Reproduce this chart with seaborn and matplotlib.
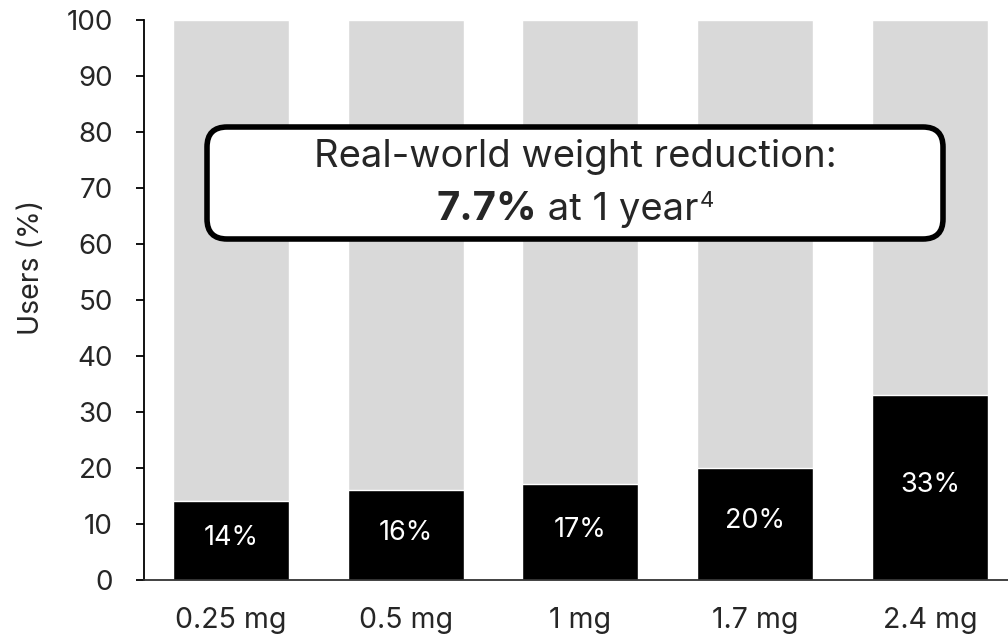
import matplotlib
matplotlib.use("Agg")
import matplotlib.pyplot as plt
import seaborn as sns
import pandas as pd
from matplotlib.patches import FancyBboxPatch
from matplotlib.transforms import IdentityTransform

doses = ["0.25 mg", "0.5 mg", "1 mg", "1.7 mg", "2.4 mg"]
users_pct = [14, 16, 17, 20, 33]
totals = [100, 100, 100, 100, 100]
yticks = [0, 10, 20, 30, 40, 50, 60, 70, 80, 90, 100]

sns.set_theme(style="white")
plt.rcParams["font.family"] = ["Inter", "DejaVu Sans"]

W, H = 1008, 634
fig = plt.figure(figsize=(W / 100, H / 100), dpi=100)
ax = fig.add_axes([143.6 / W, (H - 579.5) / H, 873.75 / W, 559.5 / H])

df = pd.DataFrame({"dose": doses, "pct": users_pct, "total": totals})
sns.barplot(data=df, x="dose", y="total", order=doses, color="#d9d9d9",
            width=0.664, saturation=1, ax=ax)
sns.barplot(data=df, x="dose", y="pct", order=doses, color="#000000",
            width=0.664, saturation=1, ax=ax)

for i, v in enumerate(users_pct):
    ax.text(i, v / 2 + 0.4, f"{v}%", ha="center", va="center", color="white",
            fontsize=19.5)

ax.set_xlim(-0.5, 4.5)
ax.set_ylim(0, 100)
ax.set_yticks(yticks)
ax.set_yticklabels([str(t) for t in yticks], fontsize=20)
ax.set_xticks(range(len(doses)))
ax.set_xticklabels(doses, fontsize=20.5)
ax.set_xlabel("")
ax.set_ylabel("Users (%)", fontsize=20.5)
ax.yaxis.set_label_coords((31.5 - 143.6) / 873.75, (579.5 - 267) / 559.5)
ax.yaxis.label.set_va("center")

for s in ["top", "right"]:
    ax.spines[s].set_visible(False)
ax.spines["left"].set_color("black")
ax.spines["left"].set_linewidth(1.3)
ax.spines["bottom"].set_color("#333333")
ax.spines["bottom"].set_linewidth(1.3)
ax.tick_params(axis="y", which="major", direction="out", length=6, width=1.3,
               color="black", pad=16, left=True)
ax.tick_params(axis="x", length=0, pad=20)

box = FancyBboxPatch((207, H - 239), 736, 112,
                     boxstyle="round,pad=0,rounding_size=20",
                     transform=IdentityTransform(), facecolor="white",
                     edgecolor="black", linewidth=4, zorder=5)
fig.add_artist(box)
fig.text(575 / W, (H - 167) / H, "Real-world weight reduction:", ha="center",
         va="baseline", fontsize=27.5, zorder=6)

# second line: assemble pieces centred around x = 575 px
renderer = fig.canvas.get_renderer()
base_y = (H - 220) / H
t1 = fig.text(0, base_y, "7.7%", fontsize=28.8, fontweight="bold",
              va="baseline", zorder=6)
t2 = fig.text(0, base_y, " at 1 year", fontsize=27.5, va="baseline", zorder=6)
t3 = fig.text(0, base_y + 13 / H, "4", fontsize=16, va="baseline", zorder=6)
w1 = t1.get_window_extent(renderer).width
w2 = t2.get_window_extent(renderer).width
w3 = t3.get_window_extent(renderer).width
x0 = 575 - (w1 + w2 + w3) / 2
t1.set_x(x0 / W)
t2.set_x((x0 + w1) / W)
t3.set_x((x0 + w1 + w2 + 1) / W)

fig.savefig("out.png", dpi=100)
